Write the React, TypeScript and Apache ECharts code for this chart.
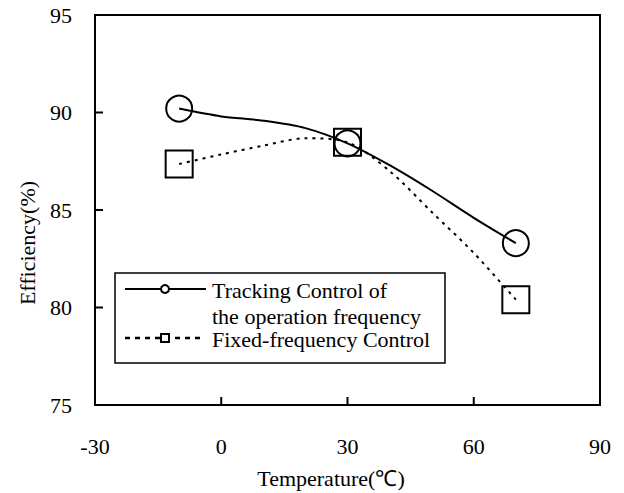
import React, { useEffect, useRef } from "react";
import * as echarts from "echarts";

const temps = [-10, 0, 10, 20, 30, 40, 50, 60, 70];
const trackingEff = [90.2, 89.8, 89.58, 89.2, 88.42, 87.3, 86.0, 84.6, 83.3];
const fixedEff = [87.36, 87.85, 88.3, 88.68, 88.47, 87.0, 84.9, 82.8, 80.4];
const markerTemps = [-10, 30, 70];
const xTicks = [-30, 0, 30, 60, 90];
const yTicks = [75, 80, 85, 90, 95];
const seriesNames = ["Tracking Control of", "the operation frequency", "Fixed-frequency Control"];
const xTitle = "Temperature(℃)";
const yTitle = "Efficiency(%)";

const FONT = "Liberation Serif";

export default function App() {
  const ref = useRef<HTMLDivElement>(null);
  useEffect(() => {
    if (!ref.current) return;
    const chart = echarts.init(ref.current, undefined, { renderer: "svg" });
    const mk = (vals: number[]) =>
      temps.map((t, i) => ({
        value: [t, vals[i]],
        symbol: markerTemps.includes(t) ? undefined : "none",
      }));
    const xMin = xTicks[0];
    const yMin = yTicks[0];
    chart.setOption({
      animation: false,
      backgroundColor: "#fff",
      textStyle: { fontFamily: FONT },
      grid: {
        left: 95,
        top: 15,
        right: 24,
        bottom: 88,
        show: true,
        borderColor: "#000",
        borderWidth: 2,
      },
      xAxis: {
        type: "value",
        min: xMin,
        max: xTicks[xTicks.length - 1],
        interval: 30,
        axisLine: { show: true, onZero: false, lineStyle: { color: "#000", width: 2 } },
        axisTick: { show: false },
        splitLine: { show: false },
        axisLabel: { color: "#000", fontFamily: FONT, fontSize: 22, margin: 30 },
      },
      yAxis: {
        type: "value",
        min: yMin,
        max: yTicks[yTicks.length - 1],
        interval: 5,
        axisLine: { show: true, onZero: false, lineStyle: { color: "#000", width: 2 } },
        axisTick: { show: false },
        splitLine: { show: false },
        axisLabel: { color: "#000", fontFamily: FONT, fontSize: 22, margin: 23 },
      },
      series: [
        {
          type: "line",
          name: seriesNames[0],
          data: mk(trackingEff),
          smooth: 0.3,
          symbol: "circle",
          symbolSize: 26,
          showAllSymbol: true,
          lineStyle: { color: "#000", width: 2 },
          itemStyle: { color: "rgba(0,0,0,0)", borderColor: "#000", borderWidth: 2 },
          z: 3,
        },
        {
          type: "line",
          name: seriesNames[2],
          data: mk(fixedEff),
          smooth: 0.3,
          symbol: "rect",
          symbolSize: 27,
          showAllSymbol: true,
          lineStyle: { color: "#000", width: 2, type: [3, 5] },
          itemStyle: { color: "rgba(0,0,0,0)", borderColor: "#000", borderWidth: 2 },
          z: 2,
        },
      ],
      graphic: [
        {
          id: "xtitle",
          type: "text",
          x: 331,
          y: 478,
          style: {
            text: xTitle,
            fontFamily: FONT,
            fontSize: 22,
            fill: "#000",
            align: "center",
            verticalAlign: "middle",
          },
        },
        {
          id: "ytitle",
          type: "text",
          x: 27,
          y: 243,
          rotation: Math.PI / 2,
          style: {
            text: yTitle,
            fontFamily: FONT,
            fontSize: 22,
            fill: "#000",
            align: "center",
            verticalAlign: "middle",
          },
        },
        {
          id: "legend",
          type: "group",
          z: 10,
          children: [
            {
              type: "rect",
              shape: { x: 115, y: 273, width: 330, height: 90 },
              style: { fill: "#fff", stroke: "#000", lineWidth: 1.5 },
            },
            {
              type: "line",
              shape: { x1: 125, y1: 289, x2: 206, y2: 289 },
              style: { stroke: "#000", lineWidth: 2 },
            },
            {
              type: "circle",
              shape: { cx: 165, cy: 289, r: 4 },
              style: { fill: "#fff", stroke: "#000", lineWidth: 2 },
            },
            {
              type: "line",
              shape: { x1: 125, y1: 338, x2: 204, y2: 338 },
              style: { stroke: "#000", lineWidth: 2.5, lineDash: [5, 5] },
            },
            {
              type: "rect",
              shape: { x: 161, y: 334, width: 8, height: 8 },
              style: { fill: "#fff", stroke: "#000", lineWidth: 2 },
            },
            {
              type: "text",
              x: 212,
              y: 290,
              style: { text: seriesNames[0], fontFamily: FONT, fontSize: 22, fill: "#000", verticalAlign: "middle" },
            },
            {
              type: "text",
              x: 212,
              y: 316,
              style: { text: seriesNames[1], fontFamily: FONT, fontSize: 22, fill: "#000", verticalAlign: "middle" },
            },
            {
              type: "text",
              x: 212,
              y: 339,
              style: { text: seriesNames[2], fontFamily: FONT, fontSize: 22, fill: "#000", verticalAlign: "middle" },
            },
          ],
        },
      ],
    });
    try {
      const tickEls: any[] = [];
      xTicks.slice(1, -1).forEach((v, i) => {
        const p = chart.convertToPixel({ gridIndex: 0 }, [v, yMin]) as number[];
        if (p) tickEls.push({ id: "xt" + i, type: "line", z: 30, shape: { x1: p[0], y1: p[1], x2: p[0], y2: p[1] - 8 }, style: { stroke: "#000", lineWidth: 2 } });
      });
      yTicks.slice(1, -1).forEach((v, i) => {
        const p = chart.convertToPixel({ gridIndex: 0 }, [xMin, v]) as number[];
        if (p) tickEls.push({ id: "yt" + i, type: "line", z: 30, shape: { x1: p[0], y1: p[1], x2: p[0] + 8, y2: p[1] }, style: { stroke: "#000", lineWidth: 2 } });
      });
      chart.setOption({ graphic: tickEls });
    } catch (e) {
      // ignore
    }
    return () => chart.dispose();
  }, []);
  return (
    <div
      ref={ref}
      style={{ position: "fixed", left: 0, top: 0, width: 624, height: 493 }}
    />
  );
}
